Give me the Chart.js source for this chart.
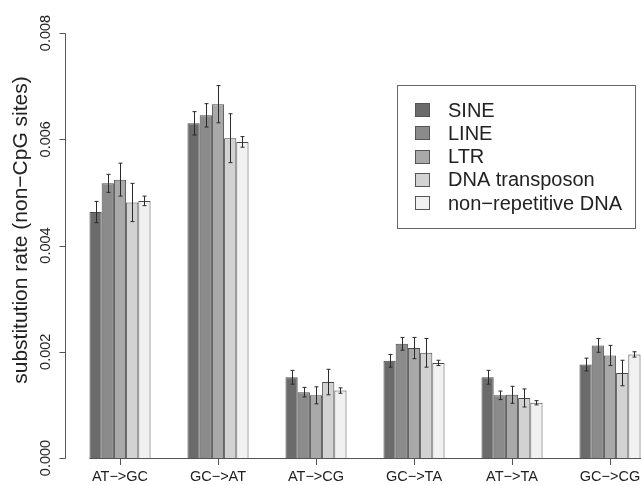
<!DOCTYPE html>
<html>
<head>
<meta charset="utf-8">
<script src="https://cdn.jsdelivr.net/npm/chart.js@4/dist/chart.umd.min.js"></script>
<style>
  html, body { margin: 0; padding: 0; background: #fff; overflow: hidden; }
  #wrap { width: 700px; height: 485px; }
</style>
</head>
<body>
<div id="wrap"><canvas id="chart"></canvas></div>
<script>
// categories and values
const categories = ['AT−>GC', 'GC−>AT', 'AT−>CG', 'GC−>TA', 'AT−>TA', 'GC−>CG'];
const seriesNames = ['SINE', 'LINE', 'LTR', 'DNA transposon', 'non−repetitive DNA'];

const sine = [0.00463, 0.00630, 0.00152, 0.00183, 0.00152, 0.00176];
const line = [0.00517, 0.00645, 0.00124, 0.00215, 0.00118, 0.00212];
const ltr = [0.00524, 0.00666, 0.00118, 0.00207, 0.00119, 0.00193];
const dnaTransposon = [0.00481, 0.00602, 0.00143, 0.00198, 0.00113, 0.00160];
const nonRepetitive = [0.00484, 0.00595, 0.00127, 0.00179, 0.00104, 0.00195];

// half-length of the error bars
const sineErr = [0.00020, 0.00022, 0.00013, 0.00012, 0.00013, 0.00012];
const lineErr = [0.00017, 0.00022, 0.00009, 0.00012, 0.00008, 0.00013];
const ltrErr = [0.00031, 0.00035, 0.00016, 0.00020, 0.00016, 0.00019];
const dnaErr = [0.00036, 0.00046, 0.00024, 0.00027, 0.00017, 0.00024];
const nonRepErr = [0.00009, 0.00010, 0.00005, 0.00005, 0.00004, 0.00005];

const yTicks = [0, 0.002, 0.004, 0.006, 0.008];
const yTickLabels = ['0.000', '0.002', '0.004', '0.006', '0.008'];
const yTitle = 'substitution rate (non−CpG sites)';

const colors = ['#6b6b6b', '#8b8b8b', '#a9a9a9', '#d2d2d2', '#f1f1f1'];
const values = [sine, line, ltr, dnaTransposon, nonRepetitive];
const errors = [sineErr, lineErr, ltrErr, dnaErr, nonRepErr];

const FONT = '"Liberation Sans", Arial, Helvetica, sans-serif';
const INK = '#222';
const AXIS = '#555';

// R style axes, error bars and legend box
const extras = {
  id: 'extras',
  afterDatasetsDraw(chart) {
    const ctx = chart.ctx;
    const y = chart.scales.y;
    ctx.save();
    ctx.strokeStyle = '#2a2a2a';
    ctx.lineWidth = 1;
    chart.data.datasets.forEach((ds, i) => {
      const meta = chart.getDatasetMeta(i);
      meta.data.forEach((bar, j) => {
        const v = ds.data[j];
        const e = ds.errors[j];
        const x = Math.round(bar.x) + 0.5;
        const top = y.getPixelForValue(v + e);
        const bot = y.getPixelForValue(v - e);
        ctx.beginPath();
        ctx.moveTo(x, top);
        ctx.lineTo(x, bot);
        ctx.moveTo(x - 2, top);
        ctx.lineTo(x + 2, top);
        ctx.moveTo(x - 2, bot);
        ctx.lineTo(x + 2, bot);
        ctx.stroke();
      });
    });
    ctx.restore();
  },
  afterDraw(chart) {
    const ctx = chart.ctx;
    const y = chart.scales.y;
    const area = chart.chartArea;
    ctx.save();
    ctx.strokeStyle = AXIS;
    ctx.lineWidth = 1;

    // y axis
    const axisX = 65.5;
    ctx.beginPath();
    ctx.moveTo(axisX, Math.round(y.getPixelForValue(yTicks[yTicks.length - 1])) + 0.5);
    ctx.lineTo(axisX, Math.round(y.getPixelForValue(yTicks[0])) + 0.5);
    yTicks.forEach(t => {
      const py = Math.round(y.getPixelForValue(t)) + 0.5;
      ctx.moveTo(axisX, py);
      ctx.lineTo(axisX - 6, py);
    });
    ctx.stroke();

    ctx.fillStyle = INK;
    ctx.font = '14.5px ' + FONT;
    ctx.textAlign = 'center';
    ctx.textBaseline = 'middle';
    yTicks.forEach((t, i) => {
      ctx.save();
      ctx.translate(46, y.getPixelForValue(t));
      ctx.rotate(-Math.PI / 2);
      ctx.fillText(yTickLabels[i], 0, 0);
      ctx.restore();
    });

    ctx.font = '21px ' + FONT;
    ctx.save();
    ctx.translate(21, 230);
    ctx.rotate(-Math.PI / 2);
    ctx.fillText(yTitle, 0, 0);
    ctx.restore();

    // x axis line from the first bar
    const first = chart.getDatasetMeta(0).data[0];
    const base = Math.round(area.bottom) + 0.5;
    ctx.beginPath();
    ctx.moveTo(first.x - first.width / 2, base);
    ctx.lineTo(chart.width, base);
    ctx.stroke();

    // legend
    const lx = 397.5, ly = 85.5, lw = 238, lh = 143;
    ctx.fillStyle = '#fff';
    ctx.fillRect(lx, ly, lw, lh);
    ctx.strokeStyle = '#666';
    ctx.strokeRect(lx, ly, lw, lh);
    ctx.font = '20px ' + FONT;
    ctx.textAlign = 'left';
    ctx.textBaseline = 'middle';
    chart.data.datasets.forEach((ds, i) => {
      const cy = 110 + i * 23.3;
      ctx.fillStyle = ds.backgroundColor;
      ctx.fillRect(415.5, Math.round(cy - 7) + 0.5, 14, 13);
      ctx.strokeStyle = AXIS;
      ctx.strokeRect(415.5, Math.round(cy - 7) + 0.5, 14, 13);
      ctx.fillStyle = INK;
      ctx.fillText(ds.label, 448, cy + 1);
    });
    ctx.restore();
  }
};

new Chart(document.getElementById('chart'), {
  type: 'bar',
  data: {
    labels: categories,
    datasets: seriesNames.map((name, i) => ({
      label: name,
      data: values[i],
      errors: errors[i],
      backgroundColor: colors[i],
      borderColor: '#4a4a4a',
      borderWidth: 1,
      barPercentage: 1,
      categoryPercentage: 0.623
    }))
  },
  options: {
    responsive: true,
    maintainAspectRatio: false,
    animation: false,
    layout: { padding: { left: 71, right: 41, top: 33, bottom: 0 } },
    plugins: {
      legend: { display: false },
      tooltip: { enabled: false }
    },
    scales: {
      x: {
        grid: {
          drawOnChartArea: false,
          offset: false,
          drawTicks: true,
          tickLength: 7,
          color: AXIS
        },
        border: { display: false },
        ticks: {
          color: INK,
          font: { family: FONT, size: 14.5 },
          padding: 3,
          maxRotation: 0,
          autoSkip: false
        },
        afterFit(scale) { scale.height = 27; }
      },
      y: {
        display: false,
        min: 0,
        max: 0.008
      }
    }
  },
  plugins: [extras]
});
</script>
</body>
</html>
